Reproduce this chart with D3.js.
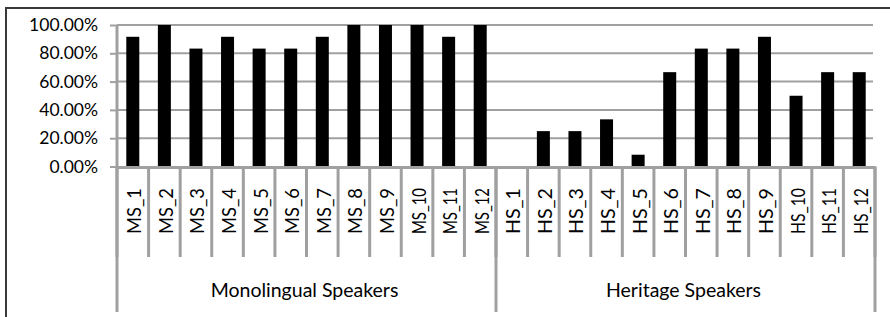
<!DOCTYPE html>
<html><head><meta charset="utf-8">
<script src="https://cdn.jsdelivr.net/npm/d3@7"></script>
<style>body{margin:0;background:#fff}svg{display:block}text{font-family:Lato,"Open Sans",sans-serif;fill:#000}</style>
</head><body><svg id="c" width="890" height="317"></svg>
<script>
const groups = ["Monolingual Speakers", "Heritage Speakers"];
const msLabels = ["MS_1","MS_2","MS_3","MS_4","MS_5","MS_6","MS_7","MS_8","MS_9","MS_10","MS_11","MS_12"];
const hsLabels = ["HS_1","HS_2","HS_3","HS_4","HS_5","HS_6","HS_7","HS_8","HS_9","HS_10","HS_11","HS_12"];
const msValues = [91.67,100,83.33,91.67,83.33,83.33,91.67,100,100,100,91.67,100];
const hsValues = [0,25,25,33.33,8.33,66.67,83.33,83.33,91.67,50,66.67,66.67];
const yTicks = [0,20,40,60,80,100];

const data = msLabels.map((c,i)=>({cat:c,grp:groups[0],v:msValues[i]}))
  .concat(hsLabels.map((c,i)=>({cat:c,grp:groups[1],v:hsValues[i]})));

const svg = d3.select("#c");
const L=117, R=875, T=25, B=166.5;
const gray="#a0a0a0";

svg.append("rect").attr("x",6).attr("y",8).attr("width",1000).attr("height",400)
  .attr("fill","none").attr("stroke","#3a3a3a").attr("stroke-width",2);

const x = d3.scaleBand().domain(data.map(d=>d.cat)).range([L,R]).paddingInner(0).paddingOuter(0);
const y = d3.scaleLinear().domain([0,100]).range([B,T]);

// gridlines
svg.append("g").selectAll("line").data(yTicks.filter(t=>t>0)).join("line")
  .attr("x1",L).attr("x2",R-2).attr("y1",d=>y(d)).attr("y2",d=>y(d))
  .attr("stroke",gray).attr("stroke-width",2);

// y axis
const ya = svg.append("g").attr("transform",`translate(${L},0)`)
  .call(d3.axisLeft(y).tickValues(yTicks).tickSize(7).tickPadding(12).tickFormat(d=>d.toFixed(2)+"%"));
ya.select(".domain").attr("stroke",gray).attr("stroke-width",3).attr("d",`M0,${T}V${B}`);
ya.selectAll(".tick line").attr("stroke",gray).attr("stroke-width",2);
ya.selectAll(".tick text").attr("font-size",17.5).attr("font-family","Lato").attr("fill","#000");

// bars
const bw = 13;
svg.append("g").selectAll("rect").data(data).join("rect")
  .attr("x",d=>x(d.cat)+x.bandwidth()/2-bw/2).attr("width",bw)
  .attr("y",d=>y(d.v)).attr("height",d=>y(0)-y(d.v)).attr("fill","#000");

// x axis line
svg.append("line").attr("x1",L).attr("x2",R).attr("y1",B+1).attr("y2",B+1)
  .attr("stroke",gray).attr("stroke-width",3);

// category ticks
const cats = x.domain();
const tickX = cats.map(c=>x(c)).concat([R]);
svg.append("g").selectAll("line").data(tickX).join("line")
  .attr("x1",d=>d).attr("x2",d=>d).attr("y1",B).attr("y2",257)
  .attr("stroke",gray).attr("stroke-width",3);

// group separators
const sep = [x(msLabels[0]), x(hsLabels[0]), R];
svg.append("g").selectAll("line").data(sep).join("line")
  .attr("x1",d=>d).attr("x2",d=>d).attr("y1",B).attr("y2",312)
  .attr("stroke",gray).attr("stroke-width",3);

// category labels
svg.append("g").selectAll("text").data(cats).join("text")
  .attr("transform",d=>`translate(${x(d)+x.bandwidth()/2+1.5},211) rotate(-90)`)
  .attr("text-anchor","middle").attr("dy","0.36em").attr("font-size",19.5)
  .attr("textLength",46).attr("lengthAdjust","spacingAndGlyphs")
  .text(d=>d);

// group labels
svg.append("g").selectAll("text").data([[groups[0],sep[0],sep[1]],[groups[1],sep[1],sep[2]]]).join("text")
  .attr("x",d=>(d[1]+d[2])/2-2).attr("y",297).attr("text-anchor","middle").attr("font-size",19.5)
  .text(d=>d[0]);
</script></body></html>
